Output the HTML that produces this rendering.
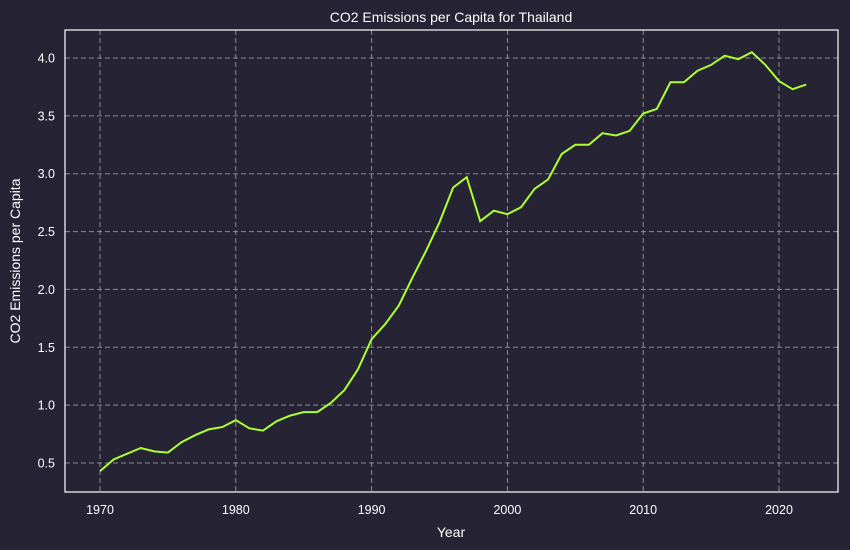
<!DOCTYPE html>
<html><head><meta charset="utf-8"><style>
html,body{margin:0;padding:0;background:#252334;}
svg{display:block;font-family:"Liberation Sans",sans-serif;}
</style></head><body>
<svg id="chart" width="850" height="550">
<rect x="0" y="0" width="850" height="550" fill="#252334"/>
<g id="grid"></g>
<g id="ticks"></g>
<path id="line" fill="none" stroke="#adff2f" stroke-width="2"/>
<rect x="65" y="30" width="773" height="462" fill="none" stroke="#ffffff" stroke-width="1.2"/>
<text x="451" y="22" fill="#fff" font-size="14" text-anchor="middle">CO2 Emissions per Capita for Thailand</text>
<text x="451" y="537" fill="#fff" font-size="14" text-anchor="middle">Year</text>
<text x="20" y="261" fill="#fff" font-size="14" text-anchor="middle" transform="rotate(-90 20 261)">CO2 Emissions per Capita</text>
</svg>
<script>
const years = [];
for (let y = 1970; y <= 2022; y++) years.push(y);
const values = [0.43,0.53,0.58,0.63,0.60,0.59,0.68,0.74,0.79,0.81,0.87,0.80,0.78,0.86,0.91,0.94,0.94,1.02,1.13,1.31,1.57,1.70,1.86,2.10,2.33,2.58,2.88,2.97,2.59,2.68,2.65,2.71,2.87,2.95,3.17,3.25,3.25,3.35,3.33,3.37,3.52,3.56,3.79,3.79,3.89,3.94,4.02,3.99,4.05,3.94,3.80,3.73,3.77];
const xTicks = [1970,1980,1990,2000,2010,2020];
const yTicks = [0.5,1.0,1.5,2.0,2.5,3.0,3.5,4.0];
const NS = "http://www.w3.org/2000/svg";
const xs = v => 100 + (v - 1970) * (679 / 50);
const ys = v => 463 - (v - 0.5) * (405 / 3.5);
const grid = document.getElementById('grid');
const ticks = document.getElementById('ticks');
function mk(tag, attrs, parent) {
  const e = document.createElementNS(NS, tag);
  for (const k in attrs) e.setAttribute(k, attrs[k]);
  parent.appendChild(e);
  return e;
}
xTicks.forEach(t => {
  const g = mk('line', {x1: xs(t), x2: xs(t), y1: 30, y2: 492, stroke: '#8a8a8a', 'stroke-dasharray': '5,3', 'stroke-width': 1}, grid);
  
  
  const tx = mk('text', {x: xs(t), y: 514, fill: '#fff', 'font-size': 12.5, 'text-anchor': 'middle'}, ticks);
  tx.textContent = t;
  
  
});
yTicks.forEach(t => {
  const g = mk('line', {x1: 65, x2: 838, y1: ys(t), y2: ys(t), stroke: '#8a8a8a', 'stroke-dasharray': '5,3', 'stroke-width': 1}, grid);
  
  
  const tx = mk('text', {x: 55, y: ys(t) + 4.5, fill: '#fff', 'font-size': 12.5, 'text-anchor': 'end'}, ticks);
  tx.textContent = t.toFixed(1);
  
  
});
document.getElementById('line').setAttribute('d', values.map((v, i) => (i ? 'L' : 'M') + xs(years[i]).toFixed(1) + ',' + ys(v).toFixed(1)).join(' '));
</script>
</body></html>
